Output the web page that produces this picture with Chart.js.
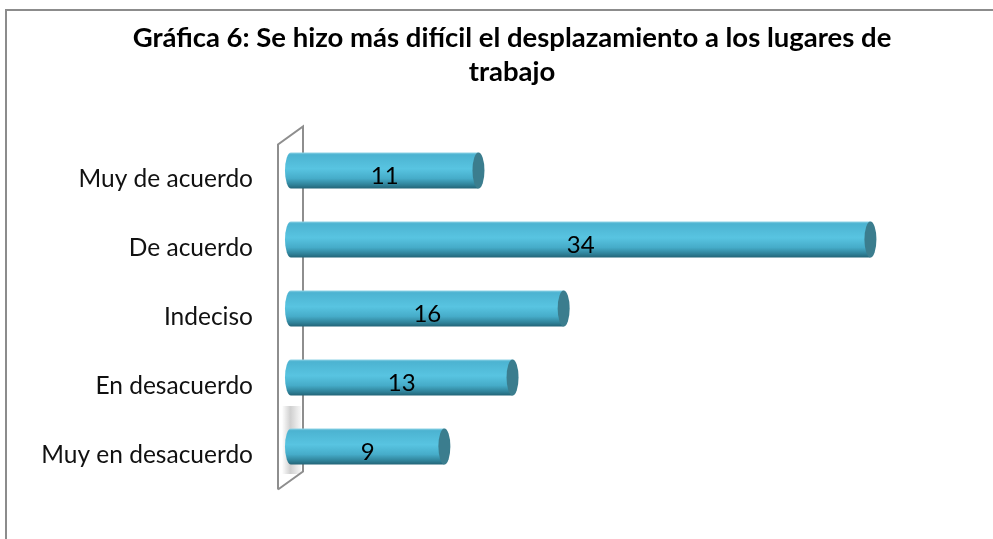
<!DOCTYPE html>
<html>
<head>
<meta charset="utf-8">
<script src="https://cdn.jsdelivr.net/npm/chart.js@4/dist/chart.umd.min.js"></script>
<style>
  html, body { margin: 0; padding: 0; background: #fff; overflow: hidden; }
  .frame {
    position: absolute; left: 5px; top: 9px;
    width: 1010px; height: 556px;
    border: 2px solid #8c8c8c; background: #fff;
  }
  canvas { display: block; }
</style>
</head>
<body>
<div class="frame"><canvas id="chart" width="1010" height="556"></canvas></div>
<script>
/* ── Data ─────────────────────────────────────────────── */
const titleLines = ["Gráfica 6: Se hizo más difícil el desplazamiento a los lugares de", "trabajo"];
const categories = ["Muy de acuerdo", "De acuerdo", "Indeciso", "En desacuerdo", "Muy en desacuerdo"];
const values = [11, 34, 16, 13, 9];

const FONT = "Lato, 'Open Sans', sans-serif";

/* ── Back wall of the 3D category axis ─────────────────── */
const wallPlugin = {
  id: "wall",
  beforeDatasetsDraw(chart) {
    const { ctx, chartArea: a } = chart;
    const fl = a.left - 13, bl = a.left + 12;
    ctx.save();
    // soft shadow near the bottom bar
    const g = ctx.createLinearGradient(fl + 4, 0, bl, 0);
    g.addColorStop(0, "rgba(150,150,150,0)");
    g.addColorStop(0.4, "rgba(150,150,150,0.45)");
    g.addColorStop(1, "rgba(150,150,150,0)");
    ctx.fillStyle = g;
    ctx.fillRect(fl + 4, a.bottom - 75, bl - fl - 6, 68);
    ctx.strokeStyle = "#8e8e8e";
    ctx.lineWidth = 2;
    ctx.beginPath();
    ctx.moveTo(fl, a.bottom + 8.5);
    ctx.lineTo(fl, a.top + 8.5);
    ctx.lineTo(bl, a.top - 9.5);
    ctx.lineTo(bl, a.bottom - 9.5);
    ctx.lineTo(fl, a.bottom + 8.5);
    ctx.stroke();
    ctx.restore();
  },
};

/* ── Cylinders + value labels ─────────────────────────── */
const cylinderPlugin = {
  id: "cylinders",
  afterDatasetsDraw(chart) {
    const { ctx } = chart;
    const meta = chart.getDatasetMeta(0);
    meta.data.forEach((bar, i) => {
      const x0 = bar.base, x1 = bar.x, h = bar.height;
      const top = bar.y - h / 2, bot = bar.y + h / 2;
      const rx = 6;
      const g = ctx.createLinearGradient(0, top, 0, bot);
      g.addColorStop(0, "#8fd3e6");
      g.addColorStop(0.06, "#4cb3d1");
      g.addColorStop(0.45, "#58c4e1");
      g.addColorStop(0.72, "#46acc9");
      g.addColorStop(0.9, "#2f8198");
      g.addColorStop(1, "#236477");
      ctx.save();
      ctx.fillStyle = g;
      ctx.beginPath();
      ctx.ellipse(x0, bar.y, rx, h / 2, 0, Math.PI / 2, Math.PI * 1.5);
      ctx.lineTo(x1, top);
      ctx.lineTo(x1, bot);
      ctx.closePath();
      ctx.fill();
      // end cap
      ctx.fillStyle = "#3b7d8e";
      ctx.beginPath();
      ctx.ellipse(x1, bar.y, rx, h / 2, 0, 0, Math.PI * 2);
      ctx.fill();
      // value label
      ctx.fillStyle = "#000";
      ctx.font = "24px " + FONT;
      ctx.textAlign = "center";
      ctx.textBaseline = "middle";
      ctx.fillText(String(values[i]), (x0 + x1) / 2, bar.y + 6);
      ctx.restore();
    });
  },
};

new Chart(document.getElementById("chart"), {
  type: "bar",
  data: {
    labels: categories,
    datasets: [{
      data: values,
      backgroundColor: "transparent",
      borderWidth: 0,
      barThickness: 36,
    }],
  },
  options: {
    indexAxis: "y",
    responsive: false,
    animation: false,
    layout: { padding: { left: 0, right: 0, top: 0, bottom: 86 } },
    plugins: {
      legend: { display: false },
      tooltip: { enabled: false },
      title: {
        display: true,
        text: titleLines,
        color: "#000",
        font: { family: FONT, size: 27.5, weight: "bold", lineHeight: 34 / 27.5 },
        padding: { top: 10, bottom: 47 },
      },
    },
    scales: {
      x: { display: false, min: 0, max: 42.6 },
      y: {
        afterFit(scale) { scale.width = 284; },
        grid: { display: false, drawTicks: false },
        border: { display: false },
        ticks: {
          color: "#111",
          padding: 38,
          labelOffset: 9,
          font: { family: FONT, size: 24.5 },
        },
      },
    },
  },
  plugins: [wallPlugin, cylinderPlugin],
});
</script>
</body>
</html>
